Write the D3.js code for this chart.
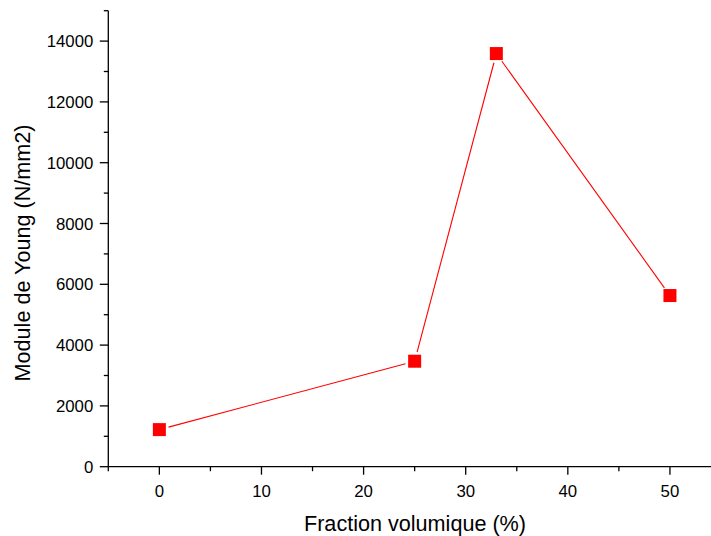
<!DOCTYPE html>
<html><head><meta charset="utf-8">
<script src="https://cdn.jsdelivr.net/npm/d3@7"></script>
<style>
html,body{margin:0;padding:0;background:#fff;}
svg{display:block;font-family:"Liberation Sans",Arial,sans-serif;}
</style></head>
<body>
<script>
const fractions = [0, 25, 33, 50];
const youngModulus = [1220, 3470, 13590, 5630];
const xMajorTicks = [0, 10, 20, 30, 40, 50];
const xMinorTicks = [-5, 5, 15, 25, 35, 45];
const yMajorTicks = [0, 2000, 4000, 6000, 8000, 10000, 12000, 14000];
const yMinorTicks = [1000, 3000, 5000, 7000, 9000, 11000, 13000, 15000];
const xTitle = "Fraction volumique (%)";
const yTitle = "Module de Young (N/mm2)";

const W = 711, H = 536;
const svg = d3.select("body").append("svg").attr("width", W).attr("height", H);

const x = d3.scaleLinear().domain([-5, 54.02]).range([108.3, 711]);
const y = d3.scaleLinear().domain([0, 15000]).range([466.7, 10.7]);

const axisColor = "#000";
// X axis
const gx = svg.append("g").attr("transform", `translate(0,${y(0)})`);
gx.append("line").attr("x1", x(-5)).attr("x2", 711).attr("stroke", axisColor).attr("stroke-width", 1.3);
gx.selectAll(".xmaj").data(xMajorTicks).join("line")
  .attr("x1", d => x(d)).attr("x2", d => x(d)).attr("y1", 0).attr("y2", 8)
  .attr("stroke", axisColor).attr("stroke-width", 1.3);
gx.selectAll(".xmin").data(xMinorTicks).join("line")
  .attr("x1", d => x(d)).attr("x2", d => x(d)).attr("y1", 0).attr("y2", 4.5)
  .attr("stroke", axisColor).attr("stroke-width", 1.3);
gx.selectAll("text").data(xMajorTicks).join("text")
  .attr("x", d => x(d)).attr("y", 30).attr("text-anchor", "middle")
  .attr("font-size", 16.8).attr("fill", "#000").text(d => d);

// Y axis
const gy = svg.append("g").attr("transform", `translate(${x(-5)},0)`);
gy.append("line").attr("y1", y(0)).attr("y2", y(15000)).attr("stroke", axisColor).attr("stroke-width", 1.3);
gy.selectAll(".ymaj").data(yMajorTicks).join("line")
  .attr("y1", d => y(d)).attr("y2", d => y(d)).attr("x1", 0).attr("x2", -8.5)
  .attr("stroke", axisColor).attr("stroke-width", 1.3);
gy.selectAll(".ymin").data(yMinorTicks).join("line")
  .attr("y1", d => y(d)).attr("y2", d => y(d)).attr("x1", 0).attr("x2", -4.5)
  .attr("stroke", axisColor).attr("stroke-width", 1.3);
gy.selectAll("text").data(yMajorTicks).join("text")
  .attr("x", -15).attr("y", d => y(d)).attr("dy", "0.36em").attr("text-anchor", "end")
  .attr("font-size", 16.8).attr("fill", "#000").text(d => d);

// Titles
svg.append("text").attr("x", 415).attr("y", 530.5).attr("text-anchor", "middle")
  .attr("font-size", 21.6).attr("fill", "#000").text(xTitle);
svg.append("text").attr("transform", `translate(30,253) rotate(-90)`).attr("text-anchor", "middle")
  .attr("font-size", 21.6).attr("fill", "#000").text(yTitle);

// Line segments with gaps near markers
const pts = fractions.map((f, i) => [x(f), y(youngModulus[i])]);
const gap = 9.5;
const segs = [];
for (let i = 0; i < pts.length - 1; i++) {
  const [x1, y1] = pts[i], [x2, y2] = pts[i + 1];
  const L = Math.hypot(x2 - x1, y2 - y1);
  const ux = (x2 - x1) / L, uy = (y2 - y1) / L;
  segs.push([x1 + ux * gap, y1 + uy * gap, x2 - ux * gap, y2 - uy * gap]);
}
svg.selectAll(".seg").data(segs).join("line")
  .attr("x1", d => d[0]).attr("y1", d => d[1]).attr("x2", d => d[2]).attr("y2", d => d[3])
  .attr("stroke", "#ff0000").attr("stroke-width", 1.1);

// Markers
const ms = 13;
svg.selectAll(".mk").data(pts).join("rect")
  .attr("x", d => d[0] - ms / 2).attr("y", d => d[1] - ms / 2)
  .attr("width", ms).attr("height", ms).attr("fill", "#ff0000");
</script>
</body></html>
